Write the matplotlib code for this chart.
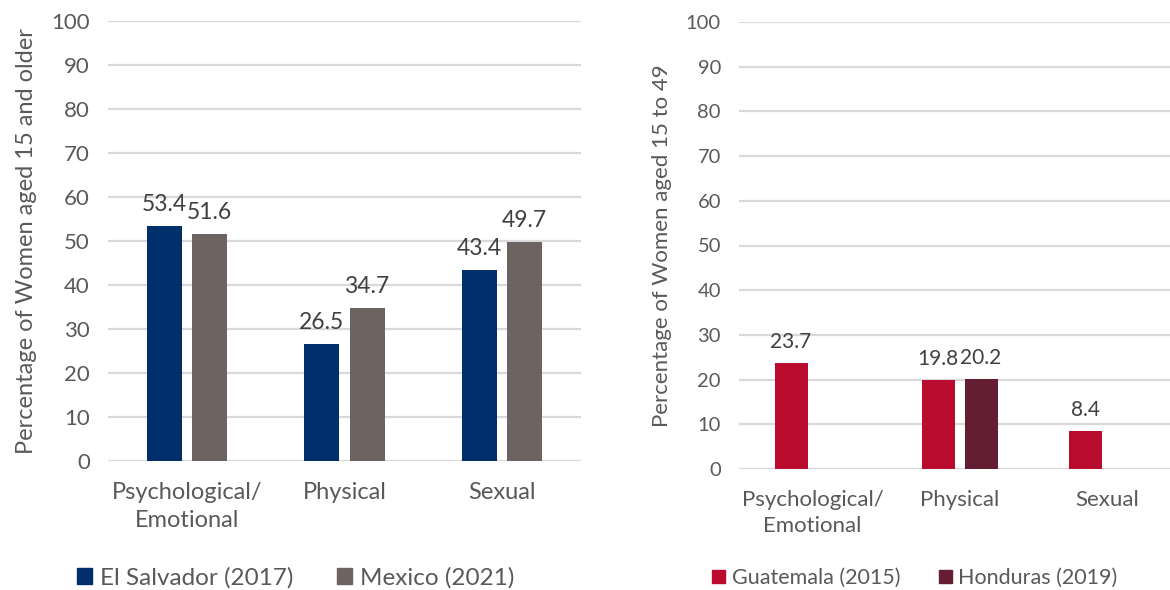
import numpy as np
import matplotlib
matplotlib.use("Agg")
import matplotlib.pyplot as plt
from matplotlib.patches import Patch

plt.rcParams["font.family"] = ["Lato", "DejaVu Sans"]

# data
categories = ["Psychological/\nEmotional", "Physical", "Sexual"]

left_series = ["El Salvador (2017)", "Mexico (2021)"]
el_salvador = [53.4, 26.5, 43.4]
mexico = [51.6, 34.7, 49.7]

right_series = ["Guatemala (2015)", "Honduras (2019)"]
guatemala = [23.7, 19.8, 8.4]
honduras = [np.nan, 20.2, np.nan]

left_colors = ["#002F6C", "#6D6462"]
right_colors = ["#BA0C2F", "#651D32"]

TICK_C = "#595959"
LABEL_C = "#404040"
GRID_C = "#D9D9D9"

fig = plt.figure(figsize=(11.7, 5.9), dpi=100)
ax1 = fig.add_axes([108 / 1170, 1 - 461 / 590, 473 / 1170, 440 / 590])
ax2 = fig.add_axes([739 / 1170, 1 - 469 / 590, 431 / 1170, 447 / 590])


def draw_panel(ax, series_vals, colors, width, offset, fs, fs_big, ylabel, xmax):
    x = np.arange(len(categories))
    for i, (vals, col) in enumerate(zip(series_vals, colors)):
        pos = x + (i - 0.5) * 2 * offset
        vals = np.asarray(vals, dtype=float)
        ok = ~np.isnan(vals)
        bars = ax.bar(pos[ok], vals[ok], width=width, color=col, zorder=3)
        for b, v in zip(bars, vals[ok]):
            ax.annotate(f"{v:.1f}", (b.get_x() + b.get_width() / 2, v),
                        xytext=(0, 8), textcoords="offset points",
                        ha="center", va="bottom", fontsize=fs + 1, color=LABEL_C)
    ax.set_ylim(0, 100)
    ax.set_yticks(range(0, 101, 10))
    ax.set_xlim(-0.5, xmax)
    ax.set_xticks(x)
    ax.set_xticklabels(categories, fontsize=fs_big, color=TICK_C, linespacing=1.4)
    ax.tick_params(axis="y", labelsize=fs + 0.5, labelcolor=TICK_C, length=0, pad=13)
    ax.tick_params(axis="x", length=0, pad=15)
    ax.grid(axis="y", color=GRID_C, linewidth=1.6, zorder=0)
    for s in ax.spines.values():
        s.set_visible(False)
    ax.set_ylabel(ylabel, fontsize=fs_big, color=TICK_C, labelpad=10)


draw_panel(ax1, [el_salvador, mexico], left_colors, 0.222, 0.143, 15.5, 17,
           "Percentage of Women aged 15 and older", 2.5)
draw_panel(ax2, [guatemala, honduras], right_colors, 0.224, 0.146, 14, 16,
           "Percentage of Women aged 15 to 49", 2.43)

h1 = [Patch(color=c) for c in left_colors]
fig.legend(h1, left_series, loc="center", bbox_to_anchor=(296 / 1170, 1 - 578 / 590),
           ncol=2, frameon=False, fontsize=17.5, handlelength=0.6, handleheight=0.6,
           handletextpad=0.35, columnspacing=1.8, labelcolor=TICK_C)
h2 = [Patch(color=c) for c in right_colors]
fig.legend(h2, right_series, loc="center", bbox_to_anchor=(915 / 1170, 1 - 578 / 590),
           ncol=2, frameon=False, fontsize=15.5, handlelength=0.6, handleheight=0.6,
           handletextpad=0.3, columnspacing=1.8, labelcolor=TICK_C)

fig.savefig("out.png", dpi=100)
